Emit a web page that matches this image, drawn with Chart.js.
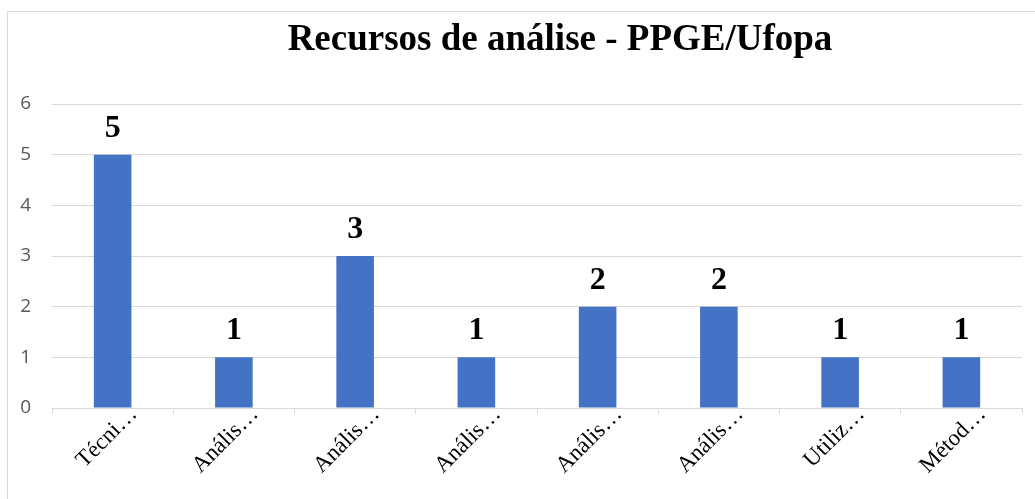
<!DOCTYPE html>
<html>
<head>
<meta charset="utf-8">
<script src="https://cdn.jsdelivr.net/npm/chart.js@4.4.1/dist/chart.umd.min.js"></script>
<style>
  body { margin: 0; background: #fff; }
  .frame { position: absolute; left: 7px; top: 11px; width: 1100px; height: 600px; border: 1px solid #d9d9d9; border-right: none; border-bottom: none; }
  .wrap { position: absolute; left: 0; top: 0; width: 1035px; height: 499px; }
</style>
</head>
<body>
<div class="frame"></div>
<div class="wrap"><canvas id="chart"></canvas></div>
<script>
const chartTitle = 'Recursos de análise - PPGE/Ufopa';
const categories = ['Técni…', 'Anális…', 'Anális…', 'Anális…', 'Anális…', 'Anális…', 'Utiliz…', 'Métod…'];
const values = [5, 1, 3, 1, 2, 2, 1, 1];
const yTicks = [0, 1, 2, 3, 4, 5, 6];

// title drawn a bit right of center, like the original
const titlePlugin = {
    id: 'topTitle',
    afterDraw(chart) {
        const ctx = chart.ctx;
        ctx.save();
        ctx.font = "bold 37px 'Liberation Serif', 'Times New Roman', serif";
        ctx.fillStyle = '#000';
        ctx.textAlign = 'center';
        ctx.textBaseline = 'alphabetic';
        ctx.fillText(chartTitle, 560, 50);
        ctx.restore();
    }
};

// value labels above bars
const valueLabels = {
    id: 'valueLabels',
    afterDatasetsDraw(chart) {
        const ctx = chart.ctx;
        const meta = chart.getDatasetMeta(0);
        ctx.save();
        ctx.font = "bold 32px 'Liberation Serif', 'Times New Roman', serif";
        ctx.fillStyle = '#000';
        ctx.textAlign = 'center';
        ctx.textBaseline = 'alphabetic';
        meta.data.forEach((bar, i) => {
            ctx.fillText(values[i], bar.x, bar.y - 18);
        });
        ctx.restore();
    }
};

const ctx = document.getElementById('chart').getContext('2d');
new Chart(ctx, {
    type: 'bar',
    data: {
        labels: categories,
        datasets: [{
            data: values,
            backgroundColor: '#4472c4',
            borderWidth: 0,
            categoryPercentage: 0.31,
            barPercentage: 1
        }]
    },
    options: {
        responsive: true,
        maintainAspectRatio: false,
        animation: false,
        layout: { padding: { top: 104, right: 13, left: 0, bottom: 0 } },
        plugins: {
            legend: { display: false },
            title: { display: false },
            tooltip: { enabled: false }
        },
        scales: {
            x: {
                afterFit: (scale) => { scale.height = 91; },
                grid: { offset: true, drawOnChartArea: false, tickLength: 6, color: '#d9d9d9' },
                border: { color: '#d9d9d9' },
                ticks: {
                    minRotation: 45,
                    maxRotation: 45,
                    autoSkip: false,
                    labelOffset: 21,
                    padding: -13,
                    color: '#000',
                    font: { family: "'Liberation Serif', 'Times New Roman', serif", size: 23 }
                }
            },
            y: {
                min: 0,
                max: 6,
                afterFit: (scale) => { scale.width = 52; },
                afterBuildTicks: (scale) => { scale.ticks = yTicks.map(v => ({ value: v })); },
                grid: { color: '#d9d9d9', drawTicks: false },
                border: { display: false },
                ticks: {
                    padding: 21,
                    color: '#595959',
                    font: { family: "'Open Sans', 'Noto Sans', sans-serif", size: 19 }
                }
            }
        }
    },
    plugins: [titlePlugin, valueLabels]
});
</script>
</body>
</html>
